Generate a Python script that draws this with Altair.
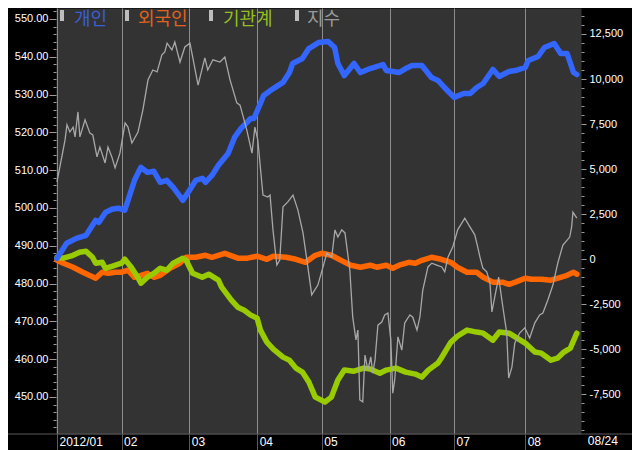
import altair as alt
import pandas as pd

# ---------------- data (trading-day index 0 = 2012-01-02, 161 = 2012-08-24) -------------
blue_day = [0,3,6,9,10,12,13,15,17,19,21,22,24,26,28,30,32,34,36,39,41,43,45,46,48,50,53,55,57,60,
            61,63,64,67,70,72,73,76,78,81,84,86,87,89,92,94,97,101,102,106,108,110,113,116,118,120,
            123,126,128,130,132,135,137,140,142,145,146,149,151,154,156,158,160,161]
blue_val = [50,890,1160,1330,1610,2160,2050,2600,2770,2830,2720,3270,4380,5100,4820,4880,4270,4380,
            3990,3270,3820,4380,4490,4270,4650,5210,5870,6760,7260,7810,7810,8640,9090,9470,9810,
            10360,10860,11140,11690,12020,12080,11750,10860,10190,10860,10360,10580,10800,10470,10360,
            10580,10750,10750,10080,9920,9530,8980,9200,9200,9530,9750,10530,10140,10420,10470,10640,
            11030,11250,11750,11970,11410,11410,10360,10250]

orange_day = [0,2,5,8,10,12,14,16,18,20,22,24,26,28,30,32,35,38,40,43,46,48,52,56,59,62,65,67,71,74,
              77,80,82,85,88,91,94,97,99,102,104,106,109,111,113,116,119,122,124,127,130,132,135,138,
              140,142,145,147,150,153,156,158,160,161]
orange_val = [-50,-220,-440,-720,-890,-1050,-720,-780,-720,-720,-610,-1000,-890,-780,-1000,-890,-500,
              -220,110,110,220,110,330,60,60,170,0,170,110,0,-170,220,330,220,-60,-330,-440,-330,-440,
              -330,-500,-330,-170,-220,-60,110,0,-170,-440,-720,-720,-1000,-1270,-1270,-1390,-1270,
              -1050,-1110,-1110,-1160,-1000,-890,-720,-830]

green_day = [0,2,5,7,9,11,12,14,15,17,20,21,23,25,26,28,30,32,34,36,39,40,42,45,47,50,51,54,56,58,
             60,62,63,65,67,70,72,74,76,78,80,83,85,87,89,92,95,97,100,102,105,108,111,113,115,118,
             119,122,124,127,130,132,135,137,140,142,145,148,150,153,155,157,159,161]
green_val = [110,60,220,390,440,110,-220,-170,-500,-390,-220,0,-440,-1000,-1330,-1000,-780,-500,-610,
             -220,60,-60,-780,-1000,-830,-1160,-1550,-2270,-2660,-2830,-3100,-3270,-3930,-4600,-4990,
             -5430,-5600,-6040,-6260,-6810,-7650,-7920,-7650,-6700,-6150,-6210,-6040,-6090,-6320,-6150,
             -6040,-6260,-6370,-6540,-6150,-5760,-5490,-4600,-4270,-3930,-4040,-4100,-4490,-4040,-4100,
             -4320,-4650,-5150,-5210,-5600,-5490,-5150,-4930,-4100]

index_day = [0,1.5,2.5,3.1,4.0,5.0,5.6,6.5,7.1,8.7,10.2,11.1,12.4,13.3,14.9,15.8,17.0,18.0,19.5,21.1,
             22.0,23.2,25.1,26.6,28.2,29.7,31.0,32.5,33.4,34.1,35.6,36.5,38.1,39.6,41.2,43.7,45.8,46.7,
             48.3,50.5,52.0,53.6,55.7,56.7,58.8,60.4,61.3,62.2,63.8,65.3,66.0,66.9,68.1,69.0,70.0,71.5,
             73.1,74.6,76.2,77.7,78.9,80.8,82.4,83.6,85.1,86.1,87.0,88.2,89.2,90.7,91.6,92.6,93.2,93.8,
             94.7,95.4,96.3,97.2,97.8,98.5,99.4,100.6,101.5,102.5,103.4,104.0,104.6,105.6,106.8,107.7,
             109.3,110.2,111.5,112.4,113.3,114.9,116.1,117.6,119.2,120.1,121.1,122.6,124.1,126.3,127.9,
             129.4,130.3,131.0,131.9,133.1,134.1,134.7,136.2,136.8,138.1,139.3,139.9,140.9,141.8,143.3,
             144.9,146.4,148.0,149.5,150.5,152.0,153.6,155.1,156.7,158.8,159.4,159.8,160.4,161.0]
index_val = [506.9,513.5,518.0,522.0,520.1,521.4,518.8,525.4,518.8,523.3,519.8,519.3,513.5,516.1,511.9,
             516.1,513.5,510.6,514.5,522.5,521.4,517.2,520.1,525.9,533.9,536.5,536.0,540.5,541.3,543.6,
             541.8,543.9,538.6,542.6,543.6,532.5,539.7,536.5,539.2,538.6,539.9,533.9,527.8,527.2,520.6,
             514.5,521.4,518.0,503.4,502.9,503.4,494.2,484.9,486.2,500.3,501.6,503.4,499.5,493.4,484.4,
             477.0,479.6,484.4,488.1,487.0,494.2,492.3,494.2,493.4,483.6,471.1,465.1,467.7,449.2,448.7,
             461.1,457.1,460.6,456.3,459.8,469.0,469.8,471.7,472.2,465.1,451.0,454.5,465.9,462.4,469.6,
             471.7,471.1,467.7,471.1,478.3,484.4,485.4,484.9,484.4,483.1,487.0,489.7,494.2,497.3,495.0,
             492.9,489.7,487.0,484.1,483.1,480.2,472.5,479.1,481.7,473.8,466.9,455.0,457.9,464.3,466.9,
             468.3,465.6,469.6,471.7,472.2,475.6,479.6,485.4,490.2,492.3,495.0,498.9,498.1,497.3]

month_ticks = [0, 20, 41, 62, 82, 103, 123, 145]
month_labels = ["2012/01", "02", "03", "04", "05", "06", "07", "08"]
last_label = "08/24"
last_day = 161

legend_names = ["개인", "외국인", "기관계", "지수"]
legend_colors = ["#3a5fd6", "#e0641e", "#94bf1e", "#9a9a9a"]

# ---------------- styling ----------------
W, H = 525, 426
FONT = "Liberation Sans"
X_DOMAIN = [-0.3, 162.3]
L_DOMAIN = [440.2, 552.9]
R_DOMAIN = [-9695, 13940]

def df(days, vals):
    return pd.DataFrame({"day": days, "value": vals})

expr = "''"
for v, lab in reversed(list(zip(month_ticks, month_labels))):
    expr = f"datum.value === {v} ? '{lab}' : ({expr})"

x_axis = alt.Axis(values=month_ticks, labelExpr=expr, grid=True, gridColor="#8c8c8c", gridWidth=1,
                  ticks=True, tickSize=16, tickColor="#5a5a5a", labelColor="white", labelFont=FONT,
                  labelFontSize=12, labelAlign="left", labelBaseline="top", labelPadding=-14,
                  labelOffset=2, domain=False, title=None, labelOverlap=False, labelFlush=False)
x_enc = alt.X("day:Q", scale=alt.Scale(domain=X_DOMAIN, nice=False, zero=False), axis=x_axis)

left_axis = alt.Axis(orient="left", values=list(range(442, 554, 2)),
                     labelExpr="datum.value % 10 === 0 ? format(datum.value, '.2f') : ''",
                     tickSize={"condition": {"test": "datum.value % 10 === 0", "value": 7}, "value": 3},
                     tickColor="#9a9a9a", labelColor="white", labelFont=FONT, labelFontSize=11,
                     labelPadding=1, grid=False, domain=False, title=None, labelOverlap=False)
right_axis = alt.Axis(orient="right", values=list(range(-9500, 14001, 500)),
                      labelExpr="datum.value % 2500 === 0 ? replace(format(datum.value, ','), '\u2212', '-') : ''",
                      tickSize={"condition": {"test": "datum.value % 2500 === 0", "value": 5}, "value": 3},
                      tickColor="#9a9a9a", labelColor="white", labelFont=FONT, labelFontSize=11,
                      labelPadding=3, grid=False, domain=False, title=None, labelOverlap=False)

def thick(days, vals, color, axis):
    return alt.Chart(df(days, vals)).mark_line(color=color, strokeWidth=5.5, strokeCap="round",
                                                strokeJoin="round").encode(
        x=x_enc,
        y=alt.Y("value:Q", scale=alt.Scale(domain=R_DOMAIN, nice=False, zero=False), axis=axis))

orange = thick(orange_day, orange_val, "#ff6600", right_axis)
green = thick(green_day, green_val, "#99cc00", None)
blue = thick(blue_day, blue_val, "#3366ff", None)

index_line = alt.Chart(df(index_day, index_val)).mark_line(color="#a8a8a8", strokeWidth=1.3).encode(
    x=x_enc,
    y=alt.Y("value:Q", scale=alt.Scale(domain=L_DOMAIN, nice=False, zero=False), axis=left_axis))

sep = alt.Chart(pd.DataFrame({"a": [0]})).mark_rule(color="#5a5a5a", strokeWidth=1).encode(
    x=alt.value(-48), x2=alt.value(W + 51), y=alt.value(H))

end_lab = alt.Chart(pd.DataFrame({"t": [last_label]})).mark_text(
    color="white", font=FONT, fontSize=12, align="left", baseline="top", dx=11).encode(
    x=alt.X(datum=last_day, scale=alt.Scale(domain=X_DOMAIN, nice=False, zero=False), axis=x_axis),
    y=alt.value(H + 2), text="t:N")

legend_layers = []
box_x = [4, 69, 153, 239]
text_x = [18, 82, 167, 251]
for name, col, bx, tx in zip(legend_names, legend_colors, box_x, text_x):
    d = pd.DataFrame({"t": [name]})
    legend_layers.append(alt.Chart(d).mark_rect(color="#bdbdbd").encode(
        x=alt.value(bx), x2=alt.value(bx + 4), y=alt.value(2), y2=alt.value(13)))
    legend_layers.append(alt.Chart(d).mark_text(
        color=col, font="Noto Sans CJK KR", fontSize=18, align="left", baseline="alphabetic").encode(
        x=alt.value(tx), y=alt.value(17), text="t:N"))

chart = alt.layer(orange, green, blue, index_line, sep, end_lab, *legend_layers).resolve_scale(
    y="independent"
).properties(
    width=W, height=H,
    autosize=alt.AutoSizeParams(type="none"),
    padding={"left": 48, "top": 0, "right": 51, "bottom": 16},
    background="black",
).configure_view(fill="#333333", stroke="transparent")

chart.save("out.html", embed_options={"renderer": "svg", "actions": False})
